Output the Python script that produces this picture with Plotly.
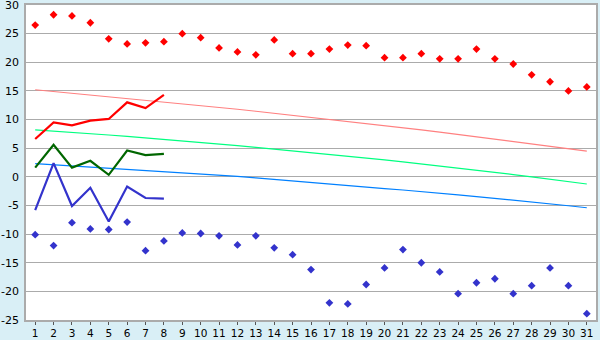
import plotly.graph_objects as go

days = list(range(1, 32))

record_max = [26.5, 28.3, 28.1, 26.9, 24.1, 23.2, 23.4, 23.6, 25.0, 24.3,
              22.5, 21.8, 21.3, 23.9, 21.5, 21.5, 22.3, 23.0, 22.9, 20.8,
              20.8, 21.5, 20.6, 20.6, 22.3, 20.6, 19.7, 17.8, 16.6, 15.0, 15.7]
record_min = [-10.1, -12.0, -8.0, -9.1, -9.2, -7.9, -12.9, -11.2, -9.8, -9.9,
              -10.3, -11.9, -10.3, -12.4, -13.6, -16.2, -22.0, -22.2, -18.8, -15.9,
              -12.7, -15.0, -16.6, -20.4, -18.5, -17.8, -20.4, -19.0, -15.9, -19.0, -23.9]

obs_days = [1, 2, 3, 4, 5, 6, 7, 8]
obs_max = [6.6, 9.5, 9.0, 9.8, 10.1, 13.0, 12.0, 14.3]
obs_mean = [1.6, 5.6, 1.6, 2.8, 0.35, 4.6, 3.8, 4.0]
obs_min = [-5.8, 2.4, -5.1, -1.9, -7.8, -1.7, -3.7, -3.8]

normal_max = [15.2, 14.9, 14.6, 14.3, 14.0, 13.7, 13.4, 13.1, 12.8, 12.45,
              12.1, 11.8, 11.45, 11.1, 10.75, 10.4, 10.05, 9.7, 9.3, 8.95,
              8.55, 8.2, 7.8, 7.4, 7.0, 6.6, 6.2, 5.8, 5.35, 4.95, 4.5]
normal_mean = [8.2, 8.0, 7.75, 7.5, 7.3, 7.05, 6.8, 6.55, 6.3, 6.0,
               5.75, 5.45, 5.15, 4.85, 4.55, 4.25, 3.95, 3.6, 3.3, 2.95,
               2.6, 2.25, 1.9, 1.5, 1.15, 0.75, 0.4, 0.0, -0.45, -0.85, -1.25]
normal_min = [2.3, 2.1, 1.9, 1.7, 1.5, 1.3, 1.1, 0.95, 0.75, 0.55,
              0.35, 0.08, -0.2, -0.48, -0.76, -1.04, -1.3, -1.56, -1.82, -2.06,
              -2.3, -2.55, -2.85, -3.15, -3.45, -3.75, -4.1, -4.4, -4.75, -5.05, -5.4]

y_ticks = [-25, -20, -15, -10, -5, 0, 5, 10, 15, 20, 25, 30]

fig = go.Figure()

fig.add_trace(go.Scatter(x=days, y=normal_max, mode="lines",
                         line=dict(color="#FF8080", width=1.2)))
fig.add_trace(go.Scatter(x=days, y=normal_mean, mode="lines",
                         line=dict(color="#00FF80", width=1.2)))
fig.add_trace(go.Scatter(x=days, y=normal_min, mode="lines",
                         line=dict(color="#0080FF", width=1.2)))

fig.add_trace(go.Scatter(x=obs_days, y=obs_max, mode="lines",
                         line=dict(color="#FF0000", width=2.2)))
fig.add_trace(go.Scatter(x=obs_days, y=obs_mean, mode="lines",
                         line=dict(color="#006600", width=2.2)))
fig.add_trace(go.Scatter(x=obs_days, y=obs_min, mode="lines",
                         line=dict(color="#3333CC", width=2.2)))

fig.add_trace(go.Scatter(x=days, y=record_max, mode="markers",
                         marker=dict(symbol="diamond", size=6, color="#FF0000",
                                     line=dict(width=0))))
fig.add_trace(go.Scatter(x=days, y=record_min, mode="markers",
                         marker=dict(symbol="diamond", size=6, color="#3333CC",
                                     line=dict(width=0))))

fig.update_layout(
    width=600, height=340,
    margin=dict(l=26, r=4, t=5, b=20, autoexpand=False),
    paper_bgcolor="#D9EFF6",
    plot_bgcolor="#FFFFFF",
    showlegend=False,
    font=dict(family="DejaVu Sans", size=11, color="#000000"),
)
fig.update_xaxes(
    range=[0.5, 31.5], tickmode="array", tickvals=days,
    ticktext=[str(d) for d in days],
    showgrid=False, zeroline=False, automargin=False,
    showline=True, linecolor="#ABABAB", linewidth=1.5, mirror=True,
    ticks="outside", ticklen=3, tickcolor="#555555", tickwidth=1,
    tickfont=dict(size=10.5), ticklabeloverflow="allow",
)
fig.update_yaxes(
    range=[-25, 30], tickmode="array", tickvals=y_ticks,
    ticktext=[str(v) for v in y_ticks],
    showgrid=True, gridcolor="#ABABAB", gridwidth=1, zeroline=False,
    automargin=False,
    showline=True, linecolor="#ABABAB", linewidth=1.5, mirror=True,
    ticks="", ticklen=0, ticklabelstandoff=3,
    tickfont=dict(size=11), ticklabeloverflow="allow",
)

fig.write_html("out.html")
